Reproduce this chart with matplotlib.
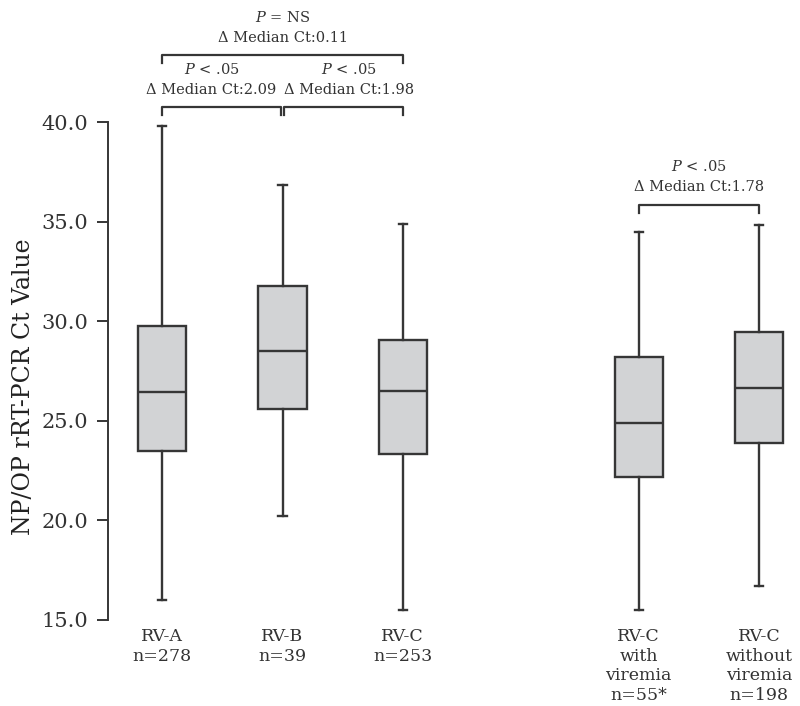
import matplotlib.pyplot as plt

plt.rcParams["font.family"] = "DejaVu Serif"
plt.rcParams["mathtext.fontset"] = "dejavuserif"

# box statistics (Ct values)
groups = ["RV-A\nn=278", "RV-B\nn=39", "RV-C\nn=253",
          "RV-C\nwith\nviremia\nn=55*", "RV-C\nwithout\nviremia\nn=198"]
whisker_low = [16.0, 20.2, 15.5, 15.5, 16.7]
q1 = [23.5, 25.58, 23.35, 22.2, 23.9]
median = [26.45, 28.49, 26.52, 24.87, 26.65]
q3 = [29.76, 31.78, 29.06, 28.2, 29.45]
whisker_high = [39.82, 36.82, 34.88, 34.47, 34.85]

# comparison brackets: (left box, right box, p text, delta text)
comparisons = [
    (0, 1, r"$P$ < .05", "Δ Median Ct:2.09"),
    (1, 2, r"$P$ < .05", "Δ Median Ct:1.98"),
    (0, 2, r"$P$ = NS", "Δ Median Ct:0.11"),
    (3, 4, r"$P$ < .05", "Δ Median Ct:1.78"),
]

positions = [1, 2, 3, 4.96, 5.96]
bracket_y = [40.75, 40.75, 43.35, 35.85]
text_shift = [-0.09, 0.05, 0.0, 0.0]

line_color = "#363636"
box_color = "#d2d3d5"
text_color = "#333333"

fig = plt.figure(figsize=(8, 7.06), dpi=100)
ax = fig.add_axes([0.135, 0.122, 0.865, 0.705])

stats = []
for i, lab in enumerate(groups):
    stats.append(dict(label=lab, whislo=whisker_low[i], q1=q1[i], med=median[i],
                      q3=q3[i], whishi=whisker_high[i], fliers=[]))

ax.bxp(stats, positions=positions, widths=0.40, patch_artist=True, showfliers=False,
       capwidths=0.07,
       boxprops=dict(facecolor=box_color, edgecolor=line_color, linewidth=1.7),
       medianprops=dict(color=line_color, linewidth=1.7),
       whiskerprops=dict(color=line_color, linewidth=1.7),
       capprops=dict(color=line_color, linewidth=1.7))

for (a, b, ptxt, dtxt), yb, dx in zip(comparisons, bracket_y, text_shift):
    xa, xb = positions[a], positions[b]
    # the two adjacent brackets meeting at RV-B keep a small gap
    if (a, b) == (0, 1):
        xb -= 0.015
    if (a, b) == (1, 2):
        xa += 0.015
    ax.plot([xa, xa, xb, xb], [yb - 0.4, yb, yb, yb - 0.4], color=line_color,
            linewidth=1.6, clip_on=False)
    xm = (positions[a] + positions[b]) / 2 + dx
    ax.text(xm, yb + 1.9, ptxt, ha="center", va="center", fontsize=10.5, color=text_color)
    ax.text(xm, yb + 0.88, dtxt, ha="center", va="center", fontsize=10.5, color=text_color)

ax.set_ylim(15, 40)
ax.set_xlim(0.55, 6.3)
ax.set_yticks([15, 20, 25, 30, 35, 40])
ax.set_yticklabels(["15.0", "20.0", "25.0", "30.0", "35.0", "40.0"])
ax.tick_params(axis="y", labelsize=15, length=8, width=1.4, color=line_color,
               labelcolor=text_color, pad=6)
ax.tick_params(axis="x", length=0, labelsize=12.5, labelcolor=text_color, pad=6)
ax.set_ylabel("NP/OP rRT-PCR Ct Value", fontsize=17, color="#222222")
ax.yaxis.set_label_coords(-0.105, 0.468)

for side in ["top", "right", "bottom"]:
    ax.spines[side].set_visible(False)
ax.spines["left"].set_color(line_color)
ax.spines["left"].set_linewidth(1.4)

fig.savefig("out.png", dpi=100)
